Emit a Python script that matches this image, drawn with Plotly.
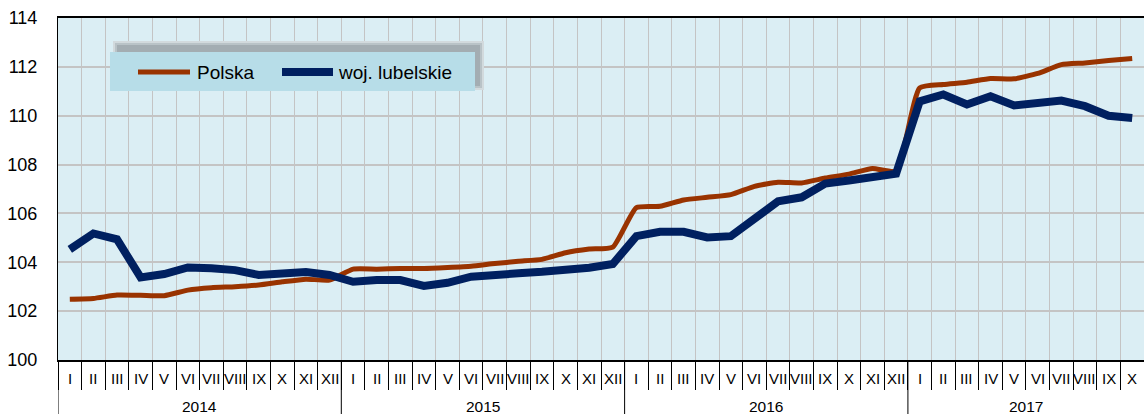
import plotly.graph_objects as go

# ---- data ----
month_labels = ["I", "II", "III", "IV", "V", "VI", "VII", "VIII", "IX", "X", "XI", "XII"]
years = ["2014", "2015", "2016", "2017"]
months_per_year = [12, 12, 12, 10]

polska = [
    102.49, 102.52, 102.66, 102.65, 102.63, 102.86, 102.96, 103.00, 103.07, 103.20, 103.31, 103.27,
    103.72, 103.72, 103.75, 103.75, 103.79, 103.84, 103.95, 104.04, 104.12, 104.39, 104.54, 104.62,
    106.24, 106.29, 106.55, 106.66, 106.77, 107.11, 107.28, 107.25, 107.45, 107.61, 107.84, 107.74,
    111.14, 111.28, 111.37, 111.52, 111.51, 111.73, 112.09, 112.16, 112.26, 112.34,
]
lubelskie = [
    104.53, 105.18, 104.94, 103.38, 103.52, 103.79, 103.76, 103.68, 103.48, 103.57, 103.60, 103.48,
    103.20, 103.27, 103.27, 103.03, 103.16, 103.41, 103.44, 103.55, 103.61, 103.68, 103.78, 103.93,
    105.07, 105.25, 105.25, 105.02, 105.07, 105.78, 106.50, 106.66, 107.22, 107.35, 107.50, 107.63,
    110.59, 110.87, 110.46, 110.80, 110.42, 110.53, 110.62, 110.39, 110.00, 109.91,
]
series_names = ["Polska", "woj. lubelskie"]
y_ticks = [100, 102, 104, 106, 108, 110, 112, 114]

# ---- layout constants ----
W, H = 1144, 414
L, R, T, B = 58, 0, 18, 414 - 360
PW, PH = W - L - R, H - T - B
ORANGE = "#993300"
BLUE = "#002060"
FONT = "Liberation Sans, Arial, sans-serif"

labels = []
for yr, n in zip(years, months_per_year):
    labels += month_labels[:n]
n_months = len(labels)
xs = [i + 0.5 for i in range(n_months)]


def px(x):
    # screen pixel x -> paper
    return (x - L) / PW


def py(y):
    # screen pixel y -> paper
    return (H - B - y) / PH


fig = go.Figure()
fig.add_trace(go.Scatter(x=xs, y=polska, mode="lines", name=series_names[0],
                         line=dict(color=ORANGE, width=5, shape="spline", smoothing=0.5),
                         hoverinfo="y"))
fig.add_trace(go.Scatter(x=xs, y=lubelskie, mode="lines", name=series_names[1],
                         line=dict(color=BLUE, width=8), hoverinfo="y"))

shapes = []
annotations = []

start = 0
for yr, n in zip(years, months_per_year):
    shapes.append(dict(type="line", xref="x", yref="paper", x0=start, x1=start,
                       y0=0, y1=py(416), line=dict(color="#000000", width=1)))
    annotations.append(dict(x=start + n / 2, y=0, xref="x", yref="paper", text=yr,
                            showarrow=False, yshift=-46.5, yanchor="middle",
                            font=dict(family=FONT, size=15.5, color="#000000")))
    start += n

for x, lab in zip(xs, labels):
    annotations.append(dict(x=x, y=0, xref="x", yref="paper", text=lab,
                            showarrow=False, yshift=-18, yanchor="middle",
                            font=dict(family=FONT, size=15, color="#000000")))

# legend (drawn manually) with soft shadow
shapes.append(dict(type="rect", xref="paper", yref="paper", x0=px(113), x1=px(484),
                   y0=py(90), y1=py(41), line=dict(width=0), fillcolor="#d2dadd", layer="above"))
shapes.append(dict(type="rect", xref="paper", yref="paper", x0=px(115), x1=px(482),
                   y0=py(88), y1=py(43), line=dict(width=0), fillcolor="#b9c3c7", layer="above"))
shapes.append(dict(type="rect", xref="paper", yref="paper", x0=px(117), x1=px(480),
                   y0=py(86), y1=py(45), line=dict(width=0), fillcolor="#a3adb2", layer="above"))
shapes.append(dict(type="rect", xref="paper", yref="paper", x0=px(110), x1=px(475),
                   y0=py(91), y1=py(52), line=dict(width=0), fillcolor="#b7dde8", layer="above"))
shapes.append(dict(type="line", xref="paper", yref="paper", x0=px(138), x1=px(190),
                   y0=py(72), y1=py(72), line=dict(color=ORANGE, width=5), layer="above"))
shapes.append(dict(type="line", xref="paper", yref="paper", x0=px(282), x1=px(333),
                   y0=py(72), y1=py(72), line=dict(color=BLUE, width=8), layer="above"))
annotations.append(dict(x=px(195), y=py(72.5), xref="paper", yref="paper", text=series_names[0],
                        showarrow=False, xanchor="left", yanchor="middle",
                        font=dict(family=FONT, size=19, color="#000000")))
annotations.append(dict(x=px(336), y=py(72.5), xref="paper", yref="paper", text=series_names[1],
                        showarrow=False, xanchor="left", yanchor="middle",
                        font=dict(family=FONT, size=19, color="#000000")))

fig.update_layout(
    width=W, height=H,
    margin=dict(l=L, r=R, t=T, b=B, pad=0),
    paper_bgcolor="#ffffff",
    plot_bgcolor="#dbeef4",
    showlegend=False,
    shapes=shapes,
    annotations=annotations,
    xaxis=dict(range=[0, n_months], tickvals=list(range(0, n_months + 1)),
               showticklabels=False, ticks="outside", ticklen=28, tickwidth=1,
               tickcolor="#000000", showgrid=True, gridcolor="#c4c4c4", gridwidth=1,
               showline=True, linecolor="#000000", linewidth=1.5, mirror=True,
               zeroline=False, fixedrange=True),
    yaxis=dict(range=[100, 114], tickvals=y_ticks, ticks="", ticklabelstandoff=16,
               tickfont=dict(family=FONT, size=18, color="#000000"),
               showgrid=True, gridcolor="#c4c4c4", gridwidth=1.5,
               showline=True, linecolor="#000000", linewidth=1,
               zeroline=False, fixedrange=True),
)

fig.write_html(
    "out.html",
    config={"displayModeBar": False},
    post_script="document.body.style.margin='0';document.body.style.overflow='hidden';",
)
